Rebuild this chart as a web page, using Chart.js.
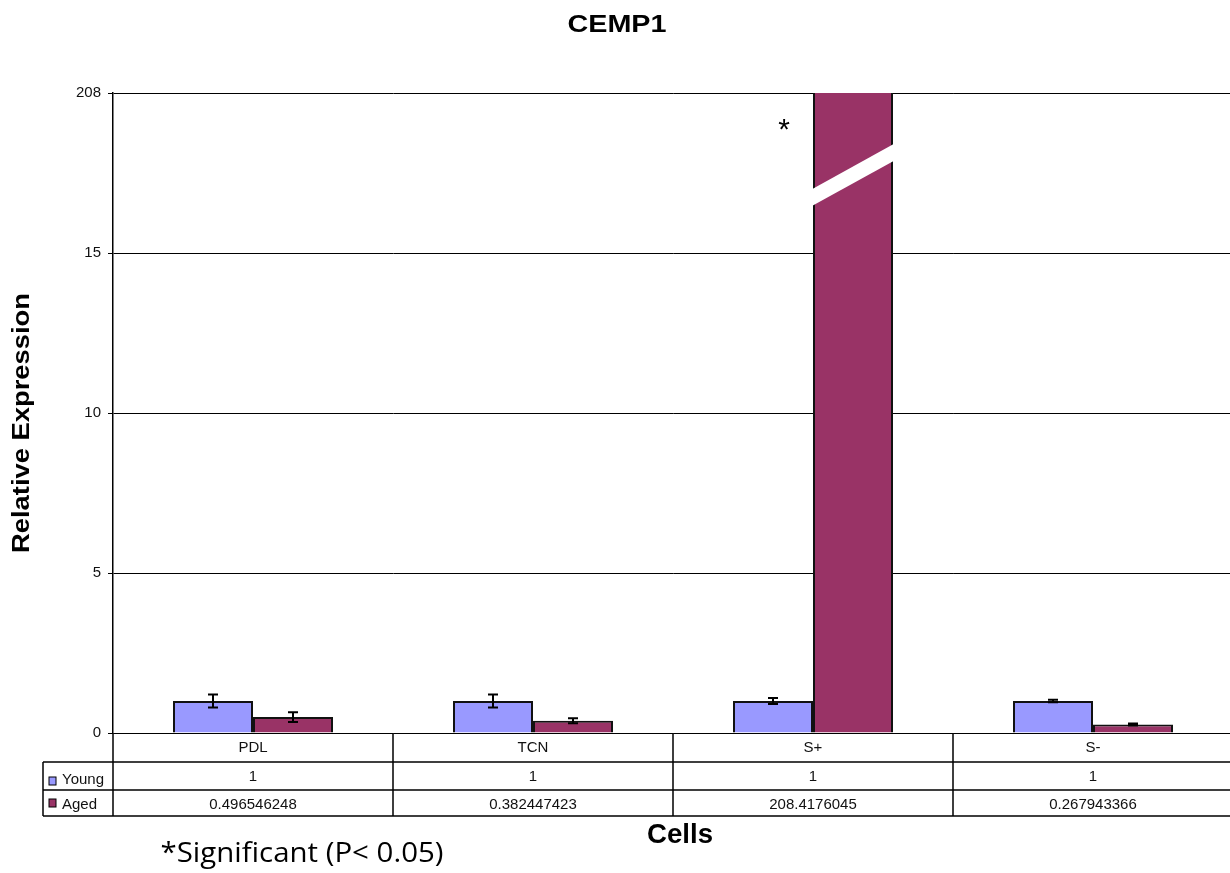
<!DOCTYPE html>
<html>
<head>
<meta charset="utf-8">
<title>CEMP1</title>
<script src="https://cdn.jsdelivr.net/npm/chart.js@4.4.1/dist/chart.umd.min.js"></script>
<style>
  html, body { margin: 0; padding: 0; background: #fff; }
  #wrap { width: 1230px; height: 873px; overflow: hidden; position: relative; }
  canvas { display: block; }
</style>
</head>
<body>
<div id="wrap"><canvas id="chart" width="1240" height="873"></canvas></div>
<script>
// Relative expression of CEMP1 per cell type
const categories = ['PDL', 'TCN', 'S+', 'S-'];
const seriesNames = ['Young', 'Aged'];
const youngValues = [1, 1, 1, 1];
const agedValues = [0.496546248, 0.382447423, 208.4176045, 0.267943366];
const youngErrors = [0.2, 0.2, 0.09, 0.04];
const agedErrors = [0.15, 0.08, 0, 0.03];

// Broken axis: the top tick stands for the off-scale value
const yTickValues = [0, 5, 10, 15, 20];
const yTickLabels = ['0', '5', '10', '15', '208'];

const significantIndex = 2;   // S+ aged
const breakBand = [16.45, 17.9]; // value span of the axis-break slash (left edge, right edge)
const breakThickness = 0.53;

const YOUNG_COLOR = '#9999FF';
const AGED_COLOR = '#993366';
const FONT = "'Liberation Sans', Arial, sans-serif";

function fitText(ctx, text, x, y, font, width) {
  ctx.save();
  ctx.font = font;
  const w = ctx.measureText(text).width;
  ctx.translate(x, y);
  ctx.scale(width / w, 1);
  ctx.textAlign = 'center';
  ctx.textBaseline = 'alphabetic';
  ctx.fillText(text, 0, 0);
  ctx.restore();
}

const errorBars = {
  id: 'errorBars',
  afterDatasetsDraw(chart) {
    const ctx = chart.ctx;
    const y = chart.scales.y;
    const errs = [youngErrors, agedErrors];
    ctx.save();
    ctx.strokeStyle = '#000';
    ctx.lineWidth = 2;
    chart.data.datasets.forEach((ds, di) => {
      const meta = chart.getDatasetMeta(di);
      meta.data.forEach((bar, i) => {
        const e = errs[di][i];
        const v = ds.data[i];
        if (!e || v + e > y.max) return;
        const top = y.getPixelForValue(v + e);
        const bot = y.getPixelForValue(v - e);
        const half = 5;
        ctx.beginPath();
        ctx.moveTo(bar.x, top); ctx.lineTo(bar.x, bot);
        ctx.moveTo(bar.x - half, top); ctx.lineTo(bar.x + half, top);
        ctx.moveTo(bar.x - half, bot); ctx.lineTo(bar.x + half, bot);
        ctx.stroke();
      });
    });
    ctx.restore();

    // slash marking the broken bar
    const bar = chart.getDatasetMeta(1).data[significantIndex];
    const L = bar.x - bar.width / 2 - 2;
    const R = bar.x + bar.width / 2 + 2;
    ctx.save();
    ctx.fillStyle = '#fff';
    ctx.beginPath();
    ctx.moveTo(L, y.getPixelForValue(breakBand[0]));
    ctx.lineTo(R, y.getPixelForValue(breakBand[1]));
    ctx.lineTo(R, y.getPixelForValue(breakBand[1] + breakThickness));
    ctx.lineTo(L, y.getPixelForValue(breakBand[0] + breakThickness));
    ctx.closePath();
    ctx.fill();
    ctx.restore();
  }
};

const decorations = {
  id: 'decorations',
  afterDraw(chart) {
    const ctx = chart.ctx;
    const area = chart.chartArea;
    const y = chart.scales.y;
    const n = categories.length;
    const colW = (area.right - area.left) / n;
    const rowTop = area.bottom;
    const row1 = rowTop + 29;
    const row2 = rowTop + 57;
    const row3 = rowTop + 83;
    const tableLeft = 43;

    ctx.save();
    ctx.fillStyle = '#000';

    // title
    fitText(ctx, 'CEMP1', 617, 32, 'bold 24px ' + FONT, 99);

    // y-axis title
    ctx.save();
    ctx.translate(29, 423);
    ctx.rotate(-Math.PI / 2);
    fitText(ctx, 'Relative Expression', 0, 0, 'bold 24px ' + FONT, 260);
    ctx.restore();

    // significance star
    const agedBar = chart.getDatasetMeta(1).data[significantIndex];
    ctx.font = '30px ' + FONT;
    ctx.textAlign = 'center';
    ctx.textBaseline = 'alphabetic';
    ctx.fillText('*', agedBar.x - agedBar.width / 2 - 29, y.getPixelForValue(19.1) + 17);

    // data table grid
    ctx.strokeStyle = '#000';
    ctx.lineWidth = 1.5;
    ctx.beginPath();
    [row1, row2, row3].forEach(r => { ctx.moveTo(tableLeft, r); ctx.lineTo(area.right, r); });
    ctx.moveTo(tableLeft, row1); ctx.lineTo(tableLeft, row3);
    for (let i = 0; i <= n; i++) {
      const x = area.left + i * colW;
      ctx.moveTo(x, rowTop); ctx.lineTo(x, row3);
    }
    ctx.stroke();

    // table text
    ctx.font = '15px ' + FONT;
    ctx.fillStyle = '#111';
    ctx.textAlign = 'center';
    categories.forEach((c, i) => {
      const cx = area.left + (i + 0.5) * colW;
      ctx.fillText(c, cx, rowTop + 19);
      ctx.fillText(String(youngValues[i]), cx, row1 + 19);
      ctx.fillText(String(agedValues[i]), cx, row2 + 19);
    });

    // legend keys inside the table
    const keyRows = [row1 + 15, row2 + 9];
    [YOUNG_COLOR, AGED_COLOR].forEach((col, k) => {
      ctx.fillStyle = col;
      ctx.fillRect(49, keyRows[k], 7, 8);
      ctx.lineWidth = 1;
      ctx.strokeStyle = '#000';
      ctx.strokeRect(49, keyRows[k], 7, 8);
      ctx.fillStyle = '#111';
      ctx.textAlign = 'left';
      ctx.fillText(seriesNames[k], 62, k === 0 ? row1 + 22 : row2 + 19);
    });

    // x-axis title
    ctx.fillStyle = '#000';
    fitText(ctx, 'Cells', 680, 843, 'bold 27px ' + FONT, 66);

    // footnote
    fitText(ctx, '*Significant (P< 0.05)', 302, 862, "27px 'Open Sans', 'Noto Sans', sans-serif", 283);

    ctx.restore();
  }
};

new Chart(document.getElementById('chart'), {
  type: 'bar',
  data: {
    labels: categories,
    datasets: [
      {
        label: seriesNames[0],
        data: youngValues,
        backgroundColor: YOUNG_COLOR,
        borderColor: '#111',
        borderWidth: 2,
        categoryPercentage: 2 / 3.5,
        barPercentage: 1
      },
      {
        label: seriesNames[1],
        data: agedValues,
        backgroundColor: AGED_COLOR,
        borderColor: '#111',
        borderWidth: 2,
        categoryPercentage: 2 / 3.5,
        barPercentage: 1,
        clip: { top: 0, bottom: false, left: false, right: false }
      }
    ]
  },
  options: {
    responsive: false,
    animation: false,
    layout: { padding: { top: 93, bottom: 140, left: 0, right: 7 } },
    plugins: { legend: { display: false }, tooltip: { enabled: false }, title: { display: false } },
    scales: {
      x: { display: false },
      y: {
        min: 0,
        max: 20,
        afterFit(scale) { scale.width = 113; },
        afterBuildTicks(scale) { scale.ticks = yTickValues.map(v => ({ value: v })); },
        ticks: {
          callback: (v) => yTickLabels[yTickValues.indexOf(v)],
          font: { family: FONT, size: 15 },
          color: '#111',
          padding: 7
        },
        grid: { color: '#000', lineWidth: 1, tickLength: 5, drawTicks: true },
        border: { color: '#000', width: 1.5 }
      }
    }
  },
  plugins: [errorBars, decorations]
});
</script>
</body>
</html>
